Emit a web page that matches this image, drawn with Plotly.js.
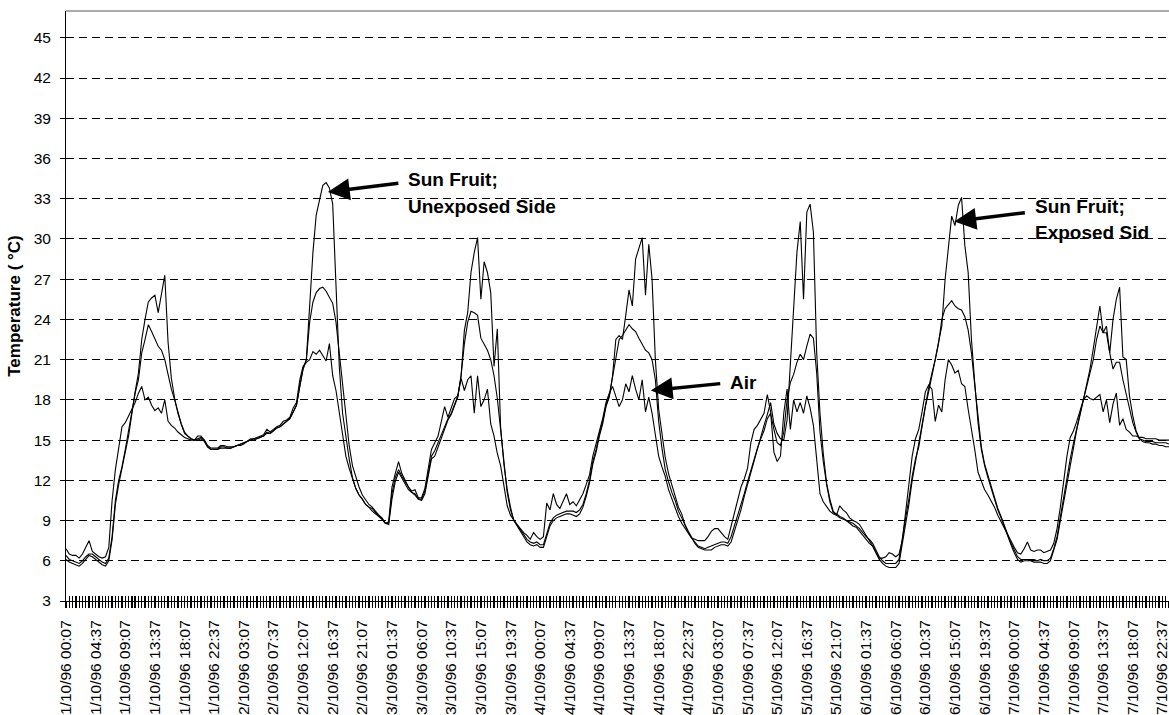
<!DOCTYPE html>
<html>
<head>
<meta charset="utf-8">
<script src="https://cdn.plot.ly/plotly-3.0.1.min.js"></script>
<style>html,body{margin:0;padding:0;background:#fff}#chart{width:1169px;height:715px}</style>
</head>
<body>
<div id="chart"></div>
<script>
// ---- Data (sampled every 30 minutes from 1/10/96 00:07) ----
const startTime = '1996-10-01 00:07';
const endTime = '1996-10-07 23:37';
const sampleMinutes = 30;

const airTemp = [
  6.9, 6.5, 6.4, 6.4, 6.2, 6.5, 7.0, 7.5, 6.7, 6.5, 6.3, 6.2, 6.3, 7.0, 10.5, 12.8, 14.6, 16.0, 16.3, 16.8, 17.2, 17.8, 18.5, 19.0,
  18.0, 18.2, 17.6, 17.2, 17.4, 17.0, 18.0, 16.4, 16.1, 15.9, 15.6, 15.4, 15.2, 15.1, 15.0, 15.0, 15.3, 15.3, 15.0, 14.6, 14.4, 14.4, 14.4, 14.6,
  14.6, 14.5, 14.5, 14.5, 14.6, 14.7, 14.8, 14.9, 15.1, 15.1, 15.2, 15.3, 15.4, 15.8, 15.6, 15.8, 16.0, 16.1, 16.4, 16.5, 16.7, 17.4, 17.8, 19.5,
  20.5, 20.8, 21.0, 21.6, 21.4, 21.7, 21.3, 20.9, 22.2, 19.8, 18.7, 17.0, 15.3, 13.8, 12.9, 12.2, 11.4, 10.9, 10.6, 10.2, 10.0, 9.9, 9.6, 9.4,
  9.1, 8.8, 8.9, 11.5, 12.5, 13.4, 12.5, 12.0, 11.5, 11.2, 11.3, 10.7, 10.7, 11.4, 13.0, 14.3, 14.8, 15.3, 16.4, 17.5, 16.7, 17.4, 18.1, 18.3,
  19.6, 18.7, 19.5, 19.8, 17.0, 19.8, 17.5, 18.0, 18.8, 16.2, 15.3, 14.0, 13.1, 11.6, 10.1, 9.4, 9.0, 8.7, 8.4, 8.1, 7.9, 7.6, 8.1, 7.8,
  7.6, 7.8, 10.3, 9.8, 11.0, 10.2, 9.9, 10.4, 11.0, 10.2, 10.4, 10.1, 10.6, 11.0, 11.7, 12.4, 13.8, 14.7, 15.8, 16.6, 17.8, 18.5, 19.0, 18.2,
  17.5, 18.0, 19.2, 18.6, 19.8, 18.8, 18.0, 19.5, 17.1, 18.2, 17.0, 15.4, 13.8, 13.0, 12.3, 11.3, 10.6, 10.0, 9.3, 8.8, 8.4, 8.0, 7.7, 7.6,
  7.5, 7.5, 7.5, 7.8, 8.2, 8.4, 8.4, 8.1, 7.8, 7.6, 8.6, 9.7, 10.7, 11.5, 12.1, 12.9, 14.8, 15.8, 16.1, 16.5, 17.0, 18.4, 17.1, 14.1,
  13.4, 13.8, 17.0, 18.8, 15.8, 18.0, 17.1, 17.8, 17.0, 18.3, 17.4, 16.1, 13.8, 11.0, 10.4, 10.0, 9.7, 9.5, 9.4, 10.1, 9.8, 9.6, 9.2, 9.0,
  8.9, 8.7, 8.3, 8.0, 7.6, 7.1, 6.6, 6.2, 6.2, 6.3, 6.6, 6.5, 6.3, 6.5, 7.5, 9.6, 12.0, 13.8, 15.1, 15.8, 17.1, 18.6, 19.1, 18.8,
  16.4, 17.6, 17.1, 19.5, 21.0, 20.6, 20.0, 20.2, 19.2, 19.0, 17.3, 15.9, 14.3, 12.6, 11.9, 11.3, 10.9, 10.5, 10.0, 9.4, 8.9, 8.5, 8.0, 7.5,
  7.0, 6.6, 6.5, 6.9, 7.4, 6.8, 6.7, 6.8, 6.8, 6.6, 6.7, 6.8, 7.3, 8.4, 10.0, 12.0, 13.8, 15.2, 15.7, 16.4, 17.3, 18.0, 18.3, 18.1,
  18.0, 18.2, 18.4, 17.1, 18.0, 16.3, 17.7, 18.5, 16.1, 16.6, 15.8, 15.6, 15.3, 15.3, 15.2, 15.2, 15.1, 15.1, 15.1, 15.1, 15.0, 15.0, 15.0, 15.0
];

const fruitShade = [
  6.4, 6.1, 6.0, 5.9, 5.8, 6.0, 6.3, 6.5, 6.5, 6.3, 6.1, 5.9, 5.8, 6.2, 7.8, 10.5, 12.0, 13.0, 14.3, 15.6, 17.2, 18.5, 19.5, 21.5,
  22.5, 23.6, 23.1, 22.5, 22.0, 21.7, 21.0, 19.9, 18.8, 18.0, 17.0, 16.2, 15.5, 15.3, 15.1, 15.0, 15.1, 15.2, 15.0, 14.5, 14.3, 14.3, 14.3, 14.5,
  14.5, 14.4, 14.4, 14.5, 14.6, 14.7, 14.8, 14.9, 15.0, 15.1, 15.1, 15.2, 15.3, 15.6, 15.5, 15.7, 15.9, 16.0, 16.2, 16.4, 16.6, 17.1, 17.6, 19.0,
  20.3, 21.0, 23.8, 25.3, 26.0, 26.3, 26.4, 26.1, 25.7, 25.2, 23.8, 21.5, 18.7, 16.4, 14.6, 13.1, 12.2, 11.5, 10.9, 10.5, 10.2, 10.0, 9.7, 9.4,
  9.2, 8.8, 8.8, 11.0, 12.2, 12.8, 12.3, 11.9, 11.4, 11.1, 11.0, 10.6, 10.6, 11.2, 12.5, 13.8, 14.2, 14.8, 15.5, 16.0, 16.6, 17.0, 17.6, 18.3,
  19.8, 22.2, 23.8, 24.6, 24.5, 24.3, 22.6, 22.2, 21.7, 21.0, 19.8, 18.1, 15.6, 13.1, 11.1, 9.8, 9.0, 8.7, 8.3, 7.9, 7.6, 7.4, 7.3, 7.4,
  7.2, 7.2, 8.0, 8.8, 9.2, 9.4, 9.5, 9.6, 9.7, 9.7, 9.7, 9.6, 9.8, 10.2, 11.0, 12.0, 13.4, 14.3, 15.5, 16.4, 17.6, 18.3, 19.8, 21.0,
  22.5, 22.8, 23.2, 23.6, 23.3, 23.1, 22.6, 22.2, 21.7, 21.5, 21.0, 19.5, 16.4, 14.4, 12.8, 11.9, 11.1, 10.5, 9.7, 9.2, 8.6, 8.1, 7.7, 7.4,
  7.1, 7.0, 6.9, 7.0, 7.1, 7.2, 7.3, 7.4, 7.4, 7.3, 7.8, 8.6, 9.4, 10.1, 11.0, 11.9, 12.8, 13.6, 14.4, 15.1, 15.7, 16.6, 17.0, 15.8,
  14.8, 14.6, 15.6, 18.0, 19.3, 19.9, 20.8, 21.4, 21.0, 22.0, 22.9, 22.6, 20.0, 15.6, 13.4, 11.7, 10.4, 9.6, 9.5, 9.3, 9.2, 9.0, 8.9, 8.8,
  8.6, 8.4, 8.1, 7.8, 7.6, 7.3, 6.8, 6.3, 6.0, 5.8, 5.8, 5.8, 5.8, 6.1, 7.8, 9.2, 10.6, 12.3, 13.6, 14.5, 16.0, 17.5, 18.6, 19.9,
  21.0, 22.2, 24.0, 24.8, 25.1, 25.4, 25.0, 24.8, 24.7, 24.2, 23.2, 21.5, 19.1, 16.6, 14.5, 13.2, 12.4, 11.5, 10.7, 9.9, 9.3, 8.6, 8.0, 7.3,
  6.8, 6.3, 6.1, 6.1, 6.1, 6.1, 6.1, 6.0, 6.1, 6.0, 6.0, 6.2, 6.9, 7.8, 9.3, 10.7, 12.0, 13.6, 14.8, 16.0, 17.0, 18.0, 19.0, 20.0,
  21.0, 22.5, 23.5, 23.0, 23.0, 21.5, 20.3, 20.8, 20.8, 19.5, 18.5, 17.5, 16.3, 15.6, 15.1, 15.0, 14.9, 14.9, 14.9, 14.8, 14.8, 14.8, 14.8, 14.7
];

const fruitSun = [
  6.1, 5.9, 5.8, 5.7, 5.6, 5.8, 6.1, 6.4, 6.3, 6.1, 5.9, 5.7, 5.6, 6.0, 7.6, 10.2, 11.7, 12.8, 14.1, 15.3, 17.0, 18.6, 20.0, 22.5,
  24.0, 25.3, 25.6, 25.8, 24.5, 26.0, 27.3, 22.3, 19.6, 18.1, 17.0, 16.2, 15.6, 15.3, 15.1, 15.0, 15.0, 15.1, 14.9, 14.5, 14.3, 14.3, 14.3, 14.4,
  14.4, 14.4, 14.4, 14.5, 14.6, 14.6, 14.7, 14.9, 15.0, 15.0, 15.1, 15.2, 15.3, 15.5, 15.5, 15.7, 15.9, 16.0, 16.2, 16.4, 16.6, 17.1, 17.6, 19.0,
  20.3, 21.0, 24.8, 29.0, 31.8, 33.0, 34.0, 34.2, 33.8, 32.6, 26.5, 20.5, 17.0, 15.2, 13.6, 12.2, 11.4, 10.9, 10.6, 10.2, 10.0, 9.7, 9.5, 9.3,
  9.1, 8.8, 8.7, 10.6, 11.9, 12.6, 12.2, 11.8, 11.3, 11.1, 10.9, 10.6, 10.5, 11.0, 12.3, 13.6, 13.8, 14.5, 15.2, 15.8, 16.5, 16.9, 17.5, 18.2,
  19.8, 23.2, 24.5, 27.5, 29.0, 30.1, 25.5, 28.3, 27.5, 26.0, 20.5, 23.3, 16.0, 13.2, 11.3, 10.0, 9.0, 8.6, 8.1, 7.7, 7.4, 7.2, 7.1, 7.2,
  7.0, 7.0, 7.8, 8.6, 9.0, 9.2, 9.3, 9.4, 9.5, 9.5, 9.4, 9.3, 9.5, 10.0, 10.8, 11.8, 13.2, 14.1, 15.3, 16.2, 17.5, 18.2, 19.8, 22.5,
  22.8, 22.5, 24.3, 26.2, 25.0, 28.5, 29.3, 30.1, 25.8, 29.6, 27.0, 21.0, 17.3, 15.4, 13.7, 12.5, 11.6, 10.9, 10.0, 9.5, 8.7, 8.2, 7.7, 7.3,
  7.0, 6.9, 6.8, 6.8, 6.8, 7.0, 7.1, 7.2, 7.2, 7.1, 7.4, 8.2, 9.0, 9.8, 10.8, 11.7, 12.6, 13.6, 14.4, 15.2, 16.1, 16.9, 17.8, 16.2,
  15.5, 15.1, 15.0, 16.5, 21.0, 25.0, 29.0, 31.3, 25.5, 32.0, 32.6, 30.5, 21.5, 17.0, 14.0, 11.8, 10.6, 9.7, 9.4, 9.2, 9.1, 9.0, 8.8, 8.6,
  8.5, 8.2, 7.9, 7.6, 7.3, 7.1, 6.6, 6.1, 5.8, 5.6, 5.5, 5.5, 5.5, 5.8, 7.2, 8.6, 10.2, 12.0, 13.4, 14.8, 16.1, 17.6, 18.9, 20.0,
  21.0, 22.3, 23.5, 27.0, 29.2, 31.7, 31.0, 32.5, 33.1, 29.5, 27.5, 22.5, 19.3, 16.3, 14.3, 13.1, 12.2, 11.4, 10.6, 9.8, 9.2, 8.5, 7.9, 7.2,
  6.6, 6.1, 5.9, 6.0, 6.0, 6.0, 5.9, 5.9, 5.9, 5.8, 5.8, 6.0, 6.8, 7.6, 9.0, 10.4, 11.7, 13.3, 14.6, 15.8, 16.9, 18.0, 19.2, 20.3,
  21.8, 23.5, 25.0, 23.0, 23.5, 21.5, 24.0, 25.5, 26.4, 21.2, 21.0, 18.3, 16.8, 15.7, 15.1, 14.9, 14.8, 14.8, 14.7, 14.7, 14.6, 14.6, 14.5, 14.5
];

const tickLabels = [
  '1/10/96 00:07', '1/10/96 04:37', '1/10/96 09:07', '1/10/96 13:37', '1/10/96 18:07', '1/10/96 22:37',
  '2/10/96 03:07', '2/10/96 07:37', '2/10/96 12:07', '2/10/96 16:37', '2/10/96 21:07',
  '3/10/96 01:37', '3/10/96 06:07', '3/10/96 10:37', '3/10/96 15:07', '3/10/96 19:37',
  '4/10/96 00:07', '4/10/96 04:37', '4/10/96 09:07', '4/10/96 13:37', '4/10/96 18:07', '4/10/96 22:37',
  '5/10/96 03:07', '5/10/96 07:37', '5/10/96 12:07', '5/10/96 16:37', '5/10/96 21:07',
  '6/10/96 01:37', '6/10/96 06:07', '6/10/96 10:37', '6/10/96 15:07', '6/10/96 19:37',
  '7/10/96 00:07', '7/10/96 04:37', '7/10/96 09:07', '7/10/96 13:37', '7/10/96 18:07', '7/10/96 22:37'
];
const yTicks = [3, 6, 9, 12, 15, 18, 21, 24, 27, 30, 33, 36, 39, 42, 45];

// ---- helpers ----
function toStamp(ms) {
  return new Date(ms).toISOString().slice(0, 16).replace('T', ' ');
}
const startMs = Date.UTC(1996, 9, 1, 0, 7);
const times = airTemp.map((_, i) => toStamp(startMs + i * sampleMinutes * 60000));
const tickVals = tickLabels.map(s => {
  const [d, m, y] = s.split(' ')[0].split('/');
  const hm = s.split(' ')[1];
  return '19' + y + '-' + m.padStart(2, '0') + '-' + d.padStart(2, '0') + ' ' + hm;
});

const lineStyle = {color: '#000', width: 1.1};
const traces = [
  {x: times, y: fruitSun, type: 'scatter', mode: 'lines', line: lineStyle, name: 'Sun Fruit; Exposed Side', hoverinfo: 'x+y'},
  {x: times, y: fruitShade, type: 'scatter', mode: 'lines', line: lineStyle, name: 'Sun Fruit; Unexposed Side', hoverinfo: 'x+y'},
  {x: times, y: airTemp, type: 'scatter', mode: 'lines', line: lineStyle, name: 'Air', hoverinfo: 'x+y'},
  {x: [], y: [], xaxis: 'x2', yaxis: 'y', type: 'scatter', showlegend: false},
  {x: [], y: [], xaxis: 'x3', yaxis: 'y', type: 'scatter', showlegend: false}
];

const font = 'Liberation Sans, Arial, sans-serif';
const halfHourMs = sampleMinutes * 60000;

const layout = {
  width: 1169, height: 715,
  margin: {l: 66, r: 0, t: 11, b: 114, pad: 0},
  paper_bgcolor: '#fff', plot_bgcolor: '#fff',
  showlegend: false,
  font: {family: font, color: '#000'},
  xaxis: {
    type: 'date', range: [startTime, endTime],
    tickmode: 'array', tickvals: tickVals, ticktext: tickLabels,
    tickangle: -90, ticks: '', ticklabelstandoff: 12, ticklabeloverflow: 'allow',
    tickfont: {family: font, size: 15.5, color: '#000'},
    showline: true, linecolor: '#000', linewidth: 1,
    showgrid: false, zeroline: false, fixedrange: true
  },
  xaxis2: {
    type: 'date', range: [startTime, endTime], overlaying: 'x', anchor: 'y', side: 'bottom',
    tickmode: 'linear', tick0: startTime, dtick: halfHourMs,
    ticks: 'outside', ticklen: 6, tickwidth: 1.3, tickcolor: '#000',
    showticklabels: false, showgrid: false, showline: false, zeroline: false
  },
  xaxis3: {
    type: 'date', range: [startTime, endTime], overlaying: 'x', anchor: 'y', side: 'bottom',
    tickmode: 'linear', tick0: startTime, dtick: halfHourMs,
    ticks: 'inside', ticklen: 5, tickwidth: 1.3, tickcolor: '#000',
    showticklabels: false, showgrid: false, showline: false, zeroline: false
  },
  yaxis: {
    range: [3, 47], tickmode: 'array', tickvals: yTicks,
    ticks: 'outside', ticklen: 5, tickcolor: '#000', ticklabelstandoff: 6,
    tickfont: {family: font, size: 15.5, color: '#000'},
    showline: true, linecolor: '#000', linewidth: 1,
    showgrid: true, gridcolor: '#000', gridwidth: 1, griddash: '8px,5px',
    zeroline: false, fixedrange: true,
    title: {text: '<b>Temperature ( °C)</b>', font: {family: font, size: 17, color: '#000'}, standoff: 8}
  },
  shapes: [
    {type: 'line', xref: 'paper', yref: 'paper', x0: 0, x1: 1, y0: 1, y1: 1, line: {color: '#aaa', width: 2}}
  ],
  annotations: [
    {x: '1996-10-02 15:53', y: 33.5, xref: 'x', yref: 'y', text: '', showarrow: true,
     ax: 72, ay: -9, arrowhead: 2, arrowsize: 1.25, arrowwidth: 3.5, arrowcolor: '#000', standoff: 0},
    {x: '1996-10-04 16:55', y: 18.7, xref: 'x', yref: 'y', text: '', showarrow: true,
     ax: 71, ay: -7, arrowhead: 2, arrowsize: 1.25, arrowwidth: 3.5, arrowcolor: '#000', standoff: 0},
    {x: '1996-10-06 15:01', y: 31.3, xref: 'x', yref: 'y', text: '', showarrow: true,
     ax: 72, ay: -9, arrowhead: 2, arrowsize: 1.25, arrowwidth: 3.5, arrowcolor: '#000', standoff: 0},
    {xref: 'paper', yref: 'paper', x: (406 - 66) / 1103, y: (601 - 179.5) / 590, xanchor: 'left', yanchor: 'middle',
     text: '<b>Sun Fruit;</b>', showarrow: false, font: {family: font, size: 19, color: '#000'}},
    {xref: 'paper', yref: 'paper', x: (406 - 66) / 1103, y: (601 - 206) / 590, xanchor: 'left', yanchor: 'middle',
     text: '<b>Unexposed Side</b>', showarrow: false, font: {family: font, size: 19, color: '#000'}},
    {xref: 'paper', yref: 'paper', x: (728 - 66) / 1103, y: (601 - 382) / 590, xanchor: 'left', yanchor: 'middle',
     text: '<b>Air</b>', showarrow: false, font: {family: font, size: 19, color: '#000'}},
    {xref: 'paper', yref: 'paper', x: (1033 - 66) / 1103, y: (601 - 206) / 590, xanchor: 'left', yanchor: 'middle',
     text: '<b>Sun Fruit;</b>', showarrow: false, font: {family: font, size: 19, color: '#000'}},
    {xref: 'paper', yref: 'paper', x: (1033 - 66) / 1103, y: (601 - 233) / 590, xanchor: 'left', yanchor: 'middle',
     text: '<b>Exposed Sid</b>', showarrow: false, font: {family: font, size: 19, color: '#000'}}
  ]
};

Plotly.newPlot('chart', traces, layout, {displayModeBar: false, staticPlot: true});
</script>
</body>
</html>
